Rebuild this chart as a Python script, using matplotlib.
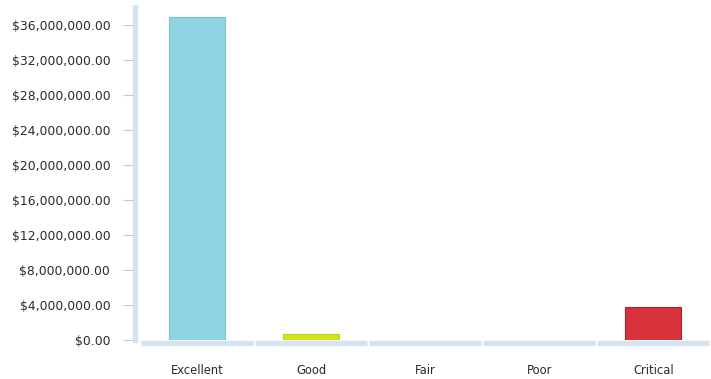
import matplotlib
matplotlib.use("Agg")
import matplotlib.pyplot as plt
import matplotlib.transforms as mtransforms
from matplotlib.ticker import FuncFormatter, MultipleLocator

categories = ["Excellent", "Good", "Fair", "Poor", "Critical"]
values = [36900000, 700000, 0, 0, 3770000]
colors = ["#8fd4e4", "#d2e21c", "#cccccc", "#cccccc", "#d8333c"]
edge_colors = ["#7cc2d2", "#c0d010", "#cccccc", "#cccccc", "#b02028"]

fig = plt.figure(figsize=(7.11, 3.79), dpi=100)
ax = fig.add_axes([134.5 / 711, 39 / 379, 1 - 134.5 / 711 - 0.001, 332.5 / 379])

x = list(range(len(categories)))
ax.bar(x, values, width=0.49, color=colors, edgecolor=edge_colors, linewidth=0.8, zorder=3)

ax.set_xlim(-0.55, 4.5)
ax.set_ylim(0, 38000000)
ax.yaxis.set_major_locator(MultipleLocator(4000000))
ax.yaxis.set_major_formatter(FuncFormatter(lambda v, p: "${:,.2f}".format(v)))

for s in ["top", "right", "bottom"]:
    ax.spines[s].set_visible(False)
ax.spines["left"].set_color("#d4e3ef")
ax.spines["left"].set_linewidth(3.8)

ax.set_xticks(x)
ax.set_xticklabels(categories)
ax.tick_params(axis="x", length=0, pad=17, labelsize=8.3, labelcolor="#2a2a2a")
ax.tick_params(axis="y", length=9, width=0.8, color="#c8c8c8", pad=8.5,
               labelsize=8.9, labelcolor="#2a2a2a")

# bottom axis strip, segmented per category
trans = mtransforms.blended_transform_factory(ax.transData, ax.transAxes)
for i in x:
    ax.plot([i - 0.49, i + 0.49], [-0.008, -0.008], transform=trans, color="#d4e3ef",
            linewidth=3.8, solid_capstyle="butt", clip_on=False, zorder=2)

fig.savefig("out.png", dpi=100)
